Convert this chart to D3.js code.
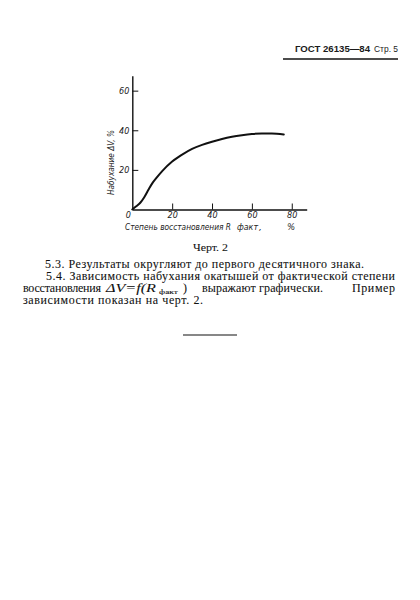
<!DOCTYPE html>
<html>
<head>
<meta charset="utf-8">
<script src="https://cdn.jsdelivr.net/npm/d3@7"></script>
<style>
  html, body { margin: 0; padding: 0; background: #fff; }
  svg { display: block; }
  .chart-label { font-family: 'DejaVu Sans Condensed', 'DejaVu Sans', sans-serif; font-style: oblique; fill: #222; }
  .body-text { font-family: 'Liberation Serif', 'DejaVu Serif', serif; font-size: 12px; fill: #111; stroke: #111; stroke-width: 0.08; }
  .axis .domain { stroke: #111; stroke-width: 1.4; }
  .axis .tick line { stroke: #111; stroke-width: 1; }
  .axis .tick text { font-family: 'DejaVu Sans Condensed', 'DejaVu Sans', sans-serif; font-style: oblique; font-size: 9px; fill: #222; }
</style>
</head>
<body>
<div id="page"></div>
<script>
// swelling ΔV (%) against the actual reduction degree R факт (%)
const reductionPct = [0, 2, 4, 6, 8, 10, 12, 15, 20, 25, 30, 35, 40, 45, 50, 55, 60, 65, 70, 76]
const swellingPct  = [0, 1.6, 3.4, 6.2, 9.8, 13.2, 15.8, 19.4, 24.2, 27.7, 30.6, 32.6, 34.2, 35.6, 36.7, 37.5, 38.1, 38.4, 38.4, 37.9]

const xTicks = [0, 20, 40, 60, 80]
const yTicks = [20, 40, 60]

const headerBold = 'ГОСТ 26135—84'
const headerPage = 'Стр. 5'
const caption = 'Черт.  2'
const yTitle = 'Набухание ΔV, %'
const paraLines = [
  '5.3. Результаты округляют до первого десятичного знака.',
  '5.4. Зависимость набухания окатышей от фактической степени',
  'зависимости показан на черт. 2.'
]

const W = 420, H = 600

const svg = d3.select('#page').append('svg')
  .attr('width', W)
  .attr('height', H)

svg.append('rect').attr('width', W).attr('height', H).attr('fill', '#fff')

// page header
svg.append('text')
  .attr('x', 295).attr('y', 51.5)
  .attr('textLength', 75).attr('lengthAdjust', 'spacingAndGlyphs')
  .style('font-family', "'Liberation Sans', 'DejaVu Sans', sans-serif")
  .style('font-weight', 'bold').style('font-size', '9px').style('fill', '#1a1a1a')
  .text(headerBold)
svg.append('text')
  .attr('x', 374).attr('y', 51.5)
  .attr('textLength', 24).attr('lengthAdjust', 'spacingAndGlyphs')
  .style('font-family', "'Liberation Sans', 'DejaVu Sans', sans-serif")
  .style('font-size', '9px').style('fill', '#1a1a1a')
  .text(headerPage)
svg.append('line')
  .attr('x1', 283).attr('x2', 398).attr('y1', 59).attr('y2', 59)
  .attr('stroke', '#111').attr('stroke-width', 1.4)

// chart
const xScale = d3.scaleLinear().domain([0, 87.5]).range([132.3, 306.7])
const yScale = d3.scaleLinear().domain([0, 67.5]).range([209.5, 75.8])

const g = svg.append('g')

g.append('g')
  .attr('class', 'axis axis-x')
  .attr('transform', `translate(0,${yScale(0)})`)
  .call(d3.axisBottom(xScale).tickValues(xTicks).tickSizeInner(-6).tickSizeOuter(0).tickPadding(2.5))
  .call(ax => ax.selectAll('.tick').filter(d => d === 0).select('line').remove())
  .call(ax => ax.selectAll('.tick').filter(d => d === 0).select('text').attr('dx', -4.5))

g.append('g')
  .attr('class', 'axis axis-y')
  .attr('transform', `translate(${xScale(0)},0)`)
  .call(d3.axisLeft(yScale).tickValues(yTicks).tickSizeInner(-6).tickSizeOuter(0).tickPadding(3))

const line = d3.line()
  .x((d, i) => xScale(reductionPct[i]))
  .y(d => yScale(d))
  .curve(d3.curveMonotoneX)

g.append('path')
  .datum(swellingPct)
  .attr('fill', 'none')
  .attr('stroke', '#111')
  .attr('stroke-width', 2)
  .attr('stroke-linecap', 'round')
  .attr('d', line)

// y title
g.append('text')
  .attr('class', 'chart-label')
  .attr('transform', 'translate(114,162.5) rotate(-90)')
  .attr('text-anchor', 'middle')
  .attr('textLength', 65).attr('lengthAdjust', 'spacingAndGlyphs')
  .style('font-size', '9.5px')
  .text(yTitle)

// x title
const xt = g.append('text').attr('class', 'chart-label').style('font-size', '9.5px')
xt.append('tspan').attr('x', 125).attr('y', 229.5)
  .attr('textLength', 106).attr('lengthAdjust', 'spacingAndGlyphs')
  .text('Степень  восстановления  R')
xt.append('tspan').attr('x', 237).attr('y', 230)
  .attr('textLength', 21).attr('lengthAdjust', 'spacingAndGlyphs')
  .style('font-size', '8px')
  .text('факт')
xt.append('tspan').attr('x', 259).attr('y', 229.5)
  .attr('textLength', 36).attr('lengthAdjust', 'spacing')
  .text(', %')

// caption
svg.append('text')
  .attr('class', 'body-text')
  .attr('x', 193).attr('y', 251)
  .attr('textLength', 35).attr('lengthAdjust', 'spacingAndGlyphs')
  .style('font-size', '11px')
  .text(caption)

// paragraph
svg.append('text').attr('class', 'body-text')
  .attr('x', 45).attr('y', 267.5)
  .attr('textLength', 319).attr('lengthAdjust', 'spacing')
  .text(paraLines[0])
svg.append('text').attr('class', 'body-text')
  .attr('x', 46).attr('y', 279.5)
  .attr('textLength', 349).attr('lengthAdjust', 'spacing')
  .text(paraLines[1])

const l3 = svg.append('text').attr('class', 'body-text')
l3.append('tspan').attr('x', 23).attr('y', 291.5)
  .attr('textLength', 78).attr('lengthAdjust', 'spacing')
  .text('восстановления')
l3.append('tspan').attr('x', 106).attr('y', 291.5)
  .attr('textLength', 50).attr('lengthAdjust', 'spacingAndGlyphs')
  .style('font-style', 'italic')
  .text('ΔV=f(R')
l3.append('tspan').attr('x', 159).attr('y', 293.5)
  .attr('textLength', 19).attr('lengthAdjust', 'spacingAndGlyphs')
  .style('font-size', '7px')
  .text('факт')
l3.append('tspan').attr('x', 183).attr('y', 291.5)
  .text(')')
l3.append('tspan').attr('x', 202).attr('y', 291.5)
  .attr('textLength', 121).attr('lengthAdjust', 'spacing')
  .text('выражают графически.')
l3.append('tspan').attr('x', 352).attr('y', 291.5)
  .attr('textLength', 43).attr('lengthAdjust', 'spacing')
  .text('Пример')

svg.append('text').attr('class', 'body-text')
  .attr('x', 23).attr('y', 303.5)
  .attr('textLength', 180).attr('lengthAdjust', 'spacing')
  .text(paraLines[2])

svg.append('line')
  .attr('x1', 183).attr('x2', 237).attr('y1', 335).attr('y2', 335)
  .attr('stroke', '#111').attr('stroke-width', 1.2)
</script>
</body>
</html>
